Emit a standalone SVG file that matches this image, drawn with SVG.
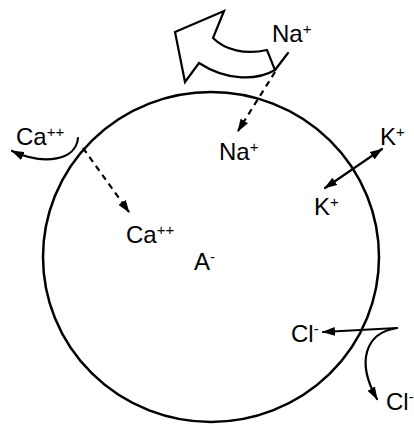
<svg xmlns="http://www.w3.org/2000/svg" width="414" height="425" viewBox="0 0 414 425">
<style>
.lbl{font-family:"Liberation Sans",Arial,sans-serif;font-size:24px;fill:#000}
.sup{font-size:15px}
.ln{fill:none;stroke:#000;stroke-width:2.2;stroke-linecap:round}
.dash{stroke-dasharray:6 5;stroke-linecap:butt}
</style>
<defs>
<marker id="ah" viewBox="0 0 12 8" refX="11" refY="4" markerWidth="13" markerHeight="9" markerUnits="userSpaceOnUse" orient="auto-start-reverse">
<path d="M0,0 L12,4 L0,8 Z" fill="#000"/>
</marker>
</defs>
<rect width="414" height="425" fill="#fff"/>
<g id="cell">
<ellipse cx="211" cy="257" rx="168" ry="165" fill="none" stroke="#000" stroke-width="2.5"/>
</g>
<g id="pump">
<path d="M175,32 L224,11 L213,38 C225,50 245,55 267,50 L275,70 C258,80 228,82 199,63 L185,82 Z" fill="#fff" stroke="#000" stroke-width="2.2" stroke-linejoin="miter"/>
</g>
<g id="connectors">
<path class="ln" d="M275,70 L288,53"/>
<path class="ln dash" d="M275,72 L238,131" marker-end="url(#ah)"/>
<path class="ln dash" d="M83,148 L129,212" marker-end="url(#ah)"/>
<path class="ln" d="M78,138 C76,160 45,166 12,151" marker-end="url(#ah)"/>
<path class="ln" d="M325,188 L382,149" marker-start="url(#ah)" marker-end="url(#ah)"/>
<path class="ln" d="M397,328 L323,332" marker-end="url(#ah)"/>
<path class="ln" d="M397,328 C365,333 356,362 377,399" marker-end="url(#ah)"/>
</g>
<g id="na-out"><text class="lbl" x="272" y="42">Na<tspan class="sup" dy="-8">+</tspan></text></g>
<g id="na-in"><text class="lbl" x="219" y="160">Na<tspan class="sup" dy="-8">+</tspan></text></g>
<g id="ca-out"><text class="lbl" x="16" y="145">Ca<tspan class="sup" dy="-8">++</tspan></text></g>
<g id="ca-in"><text class="lbl" x="126" y="243">Ca<tspan class="sup" dy="-8">++</tspan></text></g>
<g id="a-in"><text class="lbl" x="194" y="270">A<tspan class="sup" dy="-8">-</tspan></text></g>
<g id="k-out"><text class="lbl" x="380" y="145">K<tspan class="sup" dy="-8">+</tspan></text></g>
<g id="k-in"><text class="lbl" x="314" y="215">K<tspan class="sup" dy="-8">+</tspan></text></g>
<g id="cl-in"><text class="lbl" x="291" y="342">Cl<tspan class="sup" dy="-8">-</tspan></text></g>
<g id="cl-out"><text class="lbl" x="386" y="410">Cl<tspan class="sup" dy="-8">-</tspan></text></g>
</svg>
